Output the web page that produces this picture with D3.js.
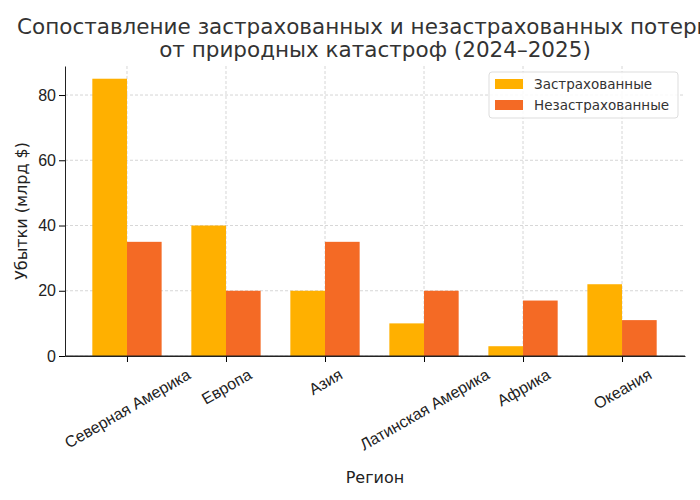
<!DOCTYPE html>
<html><head><meta charset="utf-8">
<script src="https://cdn.jsdelivr.net/npm/d3@7"></script>
<style>body{margin:0;background:#fff}svg{font-family:"DejaVu Sans",sans-serif}</style>
</head><body><svg id="c" width="700" height="500"></svg>
<script>
const categories=["Северная Америка","Европа","Азия","Латинская Америка","Африка","Океания"];
const insured=[85,40,20,10,3,22];
const uninsured=[35,20,35,20,17,11];
const yTicks=[0,20,40,60,80];
const seriesNames=["Застрахованные","Незастрахованные"];
const colors=["#FFB000","#F46A25"];

const svg=d3.select("#c");
const L=65,R=685,T=66,B=356;
const x=d3.scaleLinear().domain([-0.626,5.636]).range([L,R]);
const y=d3.scaleLinear().domain([0,88.9]).range([B,T]);
const w=0.35;
svg.append("g").selectAll("line").data(yTicks).join("line")
 .attr("x1",L).attr("x2",R).attr("y1",d=>y(d)).attr("y2",d=>y(d))
 .attr("stroke","#ccc").attr("stroke-dasharray","3,2").attr("stroke-width",0.8);
svg.append("g").selectAll("line").data(categories).join("line")
 .attr("x1",(d,i)=>x(i)).attr("x2",(d,i)=>x(i)).attr("y1",T).attr("y2",B)
 .attr("stroke","#ccc").attr("stroke-dasharray","3,2").attr("stroke-width",0.8);
[insured,uninsured].forEach((s,k)=>{
 svg.append("g").selectAll("rect").data(s).join("rect")
  .attr("x",(d,i)=>x(i+(k===0?-w:0))).attr("width",x(w)-x(0))
  .attr("y",d=>y(d)).attr("height",d=>B-y(d)).attr("fill",colors[k]);
});
const ya=svg.append("g").attr("transform",`translate(${L},0)`).call(d3.axisLeft(y).tickValues(yTicks).tickSizeOuter(0));
ya.selectAll("text").attr("font-size",16).attr("fill","#222");
ya.select(".domain").attr("stroke","#222");
const xa=svg.append("g").attr("transform",`translate(0,${B})`).call(d3.axisBottom(x).tickValues(d3.range(6)).tickFormat(i=>categories[i]).tickSizeOuter(0));
xa.select(".domain").attr("stroke","#222");
const a=Math.PI/6;
xa.selectAll("text").attr("font-size",16).attr("fill","#222").attr("text-anchor","middle")
 .attr("dy","0.35em").attr("y",0)
 .each(function(){
   const len=this.getComputedTextLength(), h=16;
   const bh=len*Math.sin(a)+h*Math.cos(a);
   const cy=10+bh/2;
   d3.select(this).attr("transform",`translate(0,${cy}) rotate(-30)`);
 });
svg.append("line").attr("x1",L).attr("x2",R).attr("y1",B).attr("y2",B).attr("stroke","#222");
svg.append("text").attr("x",375).attr("y",483).attr("text-anchor","middle").attr("font-size",16).attr("fill","#222").text("Регион");
svg.append("text").attr("transform",`translate(27,${(T+B)/2}) rotate(-90)`).attr("text-anchor","middle").attr("font-size",16).attr("fill","#222").text("Убытки (млрд $)");
svg.append("text").attr("x",17).attr("y",34).attr("font-size",21.5).attr("fill","#333").text("Сопоставление застрахованных и незастрахованных потерь");
svg.append("text").attr("x",375).attr("y",57).attr("text-anchor","middle").attr("font-size",21.5).attr("fill","#333").text("от природных катастроф (2024–2025)");
const lg=svg.append("g");
lg.append("rect").attr("x",489).attr("y",72).attr("width",189).attr("height",46).attr("rx",3).attr("fill","#fff").attr("fill-opacity",0.85).attr("stroke","#ddd");
seriesNames.forEach((n,k)=>{
 lg.append("rect").attr("x",495).attr("y",79+k*21).attr("width",28).attr("height",10).attr("fill",colors[k]);
 lg.append("text").attr("x",534).attr("y",89+k*21).attr("font-size",13.5).attr("fill","#333").text(n);
});
</script></body></html>
